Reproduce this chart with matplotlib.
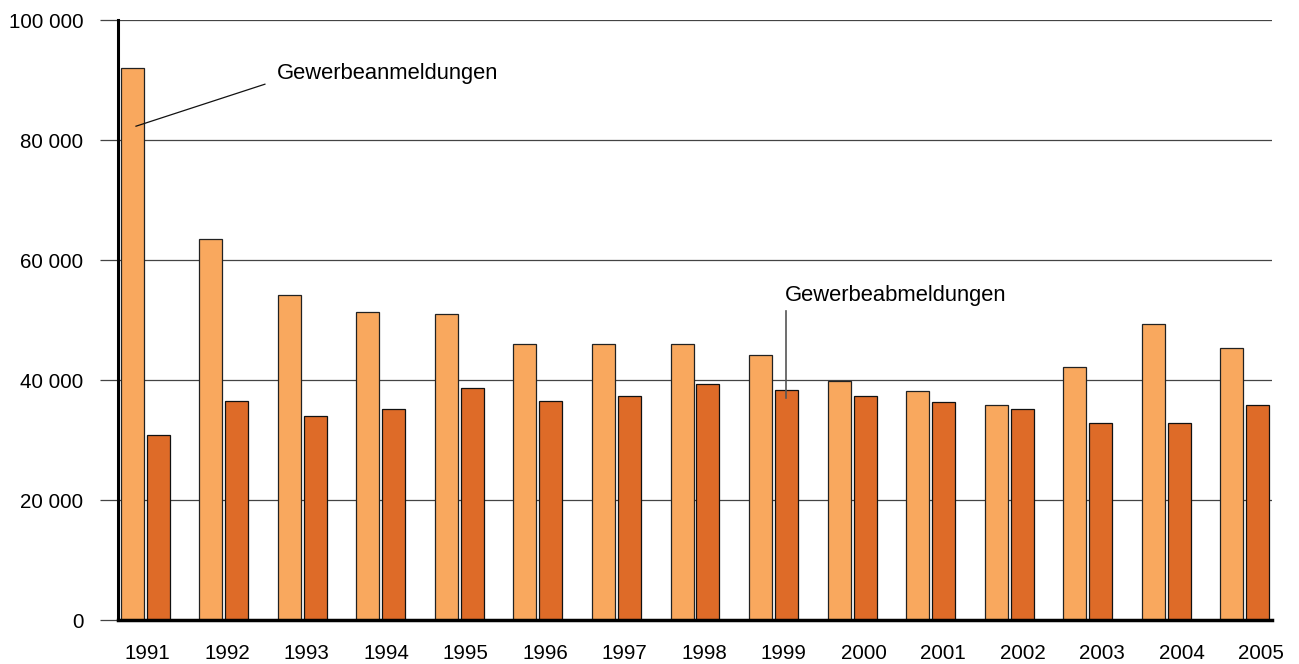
import matplotlib
matplotlib.use("Agg")
import matplotlib.pyplot as plt
import numpy as np

years = ["1991", "1992", "1993", "1994", "1995", "1996", "1997", "1998",
         "1999", "2000", "2001", "2002", "2003", "2004", "2005"]
anmeldungen = [92000, 63500, 54200, 51300, 51000, 46000, 46000, 46000,
               44200, 39800, 38100, 35800, 42100, 49300, 45400]
abmeldungen = [30800, 36500, 34000, 35100, 38700, 36500, 37300, 39300,
               38400, 37300, 36400, 35100, 32800, 32800, 35900]
yticks = [0, 20000, 40000, 60000, 80000, 100000]
ytick_labels = ["0", "20 000", "40 000", "60 000", "80 000", "100 000"]

plt.rcParams['font.family'] = ['Liberation Sans', 'DejaVu Sans']

fig = plt.figure(figsize=(12.99, 6.64), dpi=100)
ax = fig.add_axes([118/1299, 1-620/664, (1272-118)/1299, 600/664])

x = np.arange(len(years))
w = 0.293
off = 0.165
light = "#F9A85E"
dark = "#DE6B28"
ax.bar(x - off, anmeldungen, width=w, color=light, edgecolor="#222222", linewidth=0.9, zorder=3)
ax.bar(x + off, abmeldungen, width=w, color=dark, edgecolor="#111111", linewidth=0.9, zorder=3)

ax.set_xlim(-0.345, 14.345)
ax.set_ylim(0, 100000)
ax.set_yticks(yticks)
ax.set_yticklabels(ytick_labels, fontsize=14.8)
ax.yaxis.grid(True, color="#444444", linewidth=0.9, zorder=0)
ax.set_axisbelow(True)
ax.tick_params(axis="y", length=13, width=0.9, color="#444444", pad=12)

tick_pos = 0.03 + x * (79.6 / 78.6)
ax.set_xticks(tick_pos)
ax.set_xticklabels(years, fontsize=14.8)
ax.tick_params(axis="x", length=0, pad=17)

for s in ["top", "right"]:
    ax.spines[s].set_visible(False)
ax.spines["left"].set_linewidth(2.2)
ax.spines["bottom"].set_linewidth(2.5)
ax.spines["left"].set_zorder(5)
ax.spines["bottom"].set_zorder(5)

ax.plot([-0.116, 1.525], [82300, 89300], color="#111111", linewidth=0.9, zorder=6)
ax.text(1.678, 91000, "Gewerbeanmeldungen", fontsize=15.8, va="center", ha="left")
ax.plot([8.154, 8.154], [37000, 51500], color="#555555", linewidth=1.2, zorder=6)
ax.text(8.141, 54000, "Gewerbeabmeldungen", fontsize=15.8, va="center", ha="left")

fig.savefig("out.png", dpi=100)
